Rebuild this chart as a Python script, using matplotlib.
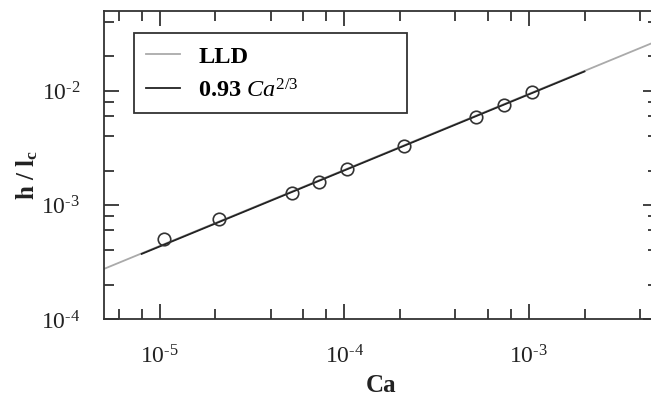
import numpy as np
import matplotlib
matplotlib.use("Agg")
import matplotlib.pyplot as plt
from matplotlib import ticker

# measured film thickness vs capillary number
ca_data = [1.05e-5, 2.1e-5, 5.2e-5, 7.3e-5, 1.04e-4, 2.1e-4, 5.2e-4, 7.3e-4, 1.04e-3]
h_data = [5.0e-4, 7.5e-4, 1.27e-3, 1.59e-3, 2.07e-3, 3.3e-3, 5.9e-3, 7.5e-3, 9.8e-3]

# power laws: LLD prediction and fit to the data
lld_coef = 0.94
lld_range = [5e-6, 5e-3]
fit_coef = 0.93
fit_range = [8e-6, 2e-3]
exponent = 2.0 / 3.0

plt.rcParams["font.family"] = "serif"
plt.rcParams["font.serif"] = ["Liberation Serif", "DejaVu Serif"]
plt.rcParams["mathtext.fontset"] = "custom"
plt.rcParams["mathtext.rm"] = "Liberation Serif"
plt.rcParams["mathtext.it"] = "Liberation Serif:italic"
plt.rcParams["mathtext.bf"] = "Liberation Serif:bold"


def pow_label(v, pos):
    k = int(round(np.log10(v)))
    return "$10^{\u2010%d}$" % abs(k)


fig = plt.figure(figsize=(6.51, 4.02), dpi=100)
ax = fig.add_axes([104 / 651, 82 / 402, 554 / 651, 308 / 402])

lld_x = np.array(lld_range)
fit_x = np.array(fit_range)
ax.plot(lld_x, lld_coef * lld_x ** exponent, color="#aaaaaa", lw=1.3, label="LLD")
ax.plot(fit_x, fit_coef * fit_x ** exponent, color="#222222", lw=1.3,
        label=r"0.93 $\mathit{Ca}^{\mathrm{2/3}}$")
ax.plot(ca_data, h_data, "o", ms=9, mfc="none", mec="#333333", mew=1.2)

ax.set_xscale("log")
ax.set_yscale("log")
ax.set_xlim(5e-6, 5e-3)
ax.set_ylim(1e-4, 5e-2)

for axis in (ax.xaxis, ax.yaxis):
    axis.set_major_locator(ticker.LogLocator(base=10, numticks=10))
    axis.set_minor_locator(ticker.LogLocator(base=10, subs=[2, 4, 6, 8], numticks=10))
    axis.set_major_formatter(ticker.FuncFormatter(pow_label))
    axis.set_minor_formatter(ticker.NullFormatter())

ax.tick_params(which="both", direction="in", top=True, right=True,
               color="#333333", width=1.3, labelsize=17, labelcolor="#222222")
ax.tick_params(which="major", length=11)
ax.tick_params(which="minor", length=7)
ax.tick_params(axis="x", which="major", pad=18)
ax.tick_params(axis="y", which="major", pad=17)

for s in ax.spines.values():
    s.set_color("#333333")
    s.set_linewidth(1.3)

ax.set_xlabel("Ca", fontsize=18, fontweight="bold", color="#222222")
ax.set_ylabel(r"h / l$_{\mathbf{c}}$", fontsize=18, fontweight="bold", color="#222222")
ax.xaxis.set_label_coords(0.5, -0.175)
ax.yaxis.set_label_coords(-0.115, 0.47)

leg = ax.legend(loc="upper left", bbox_to_anchor=(0.054, 0.682, 0.493, 0.247),
                mode="expand", prop={"weight": "bold", "size": 17.5},
                frameon=True, fancybox=False, framealpha=1, edgecolor="#333333",
                handlelength=1.4, handletextpad=0.75, labelspacing=0.45,
                borderpad=0.5, borderaxespad=0)
leg.get_frame().set_linewidth(1.3)

fig.savefig("out.png", dpi=100)
